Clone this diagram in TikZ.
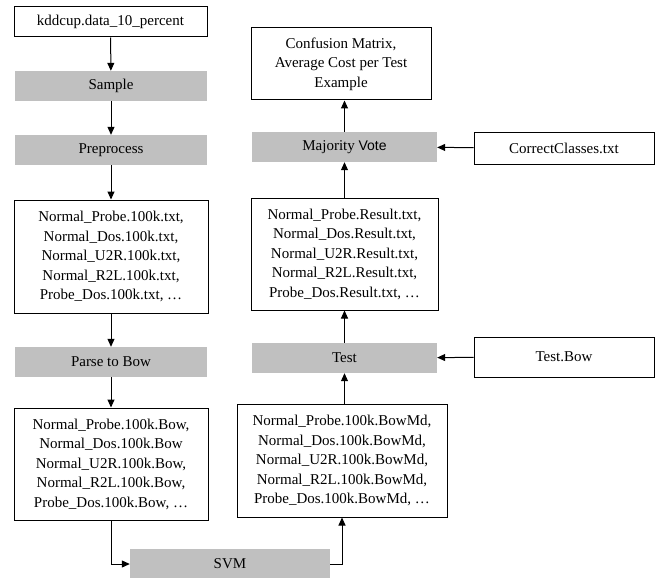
\documentclass[tikz,border=0pt]{standalone}
\usepackage{fontspec}
\setmainfont{Liberation Serif}
\newfontfamily\timesfont{Liberation Serif}
\newfontfamily\arialfont{Liberation Sans}
\usetikzlibrary{arrows.meta,calc}
\definecolor{procgray}{RGB}{192,192,192}
\begin{document}
\begin{tikzpicture}[x=1pt,y=-1pt,
  every node/.style={font=\timesfont\fontsize{15}{19.5}\selectfont, inner sep=0pt, align=center},
  filebox/.style={draw=black, line width=1pt, fill=white},
  procbox/.style={fill=procgray},
  conn/.style={line width=1pt, -{Triangle[length=8pt,width=7pt]}}
]
\useasboundingbox (0,0) rectangle (662,578);
\fill[white] (0,0) rectangle (662,578);

% left column
\node[filebox, minimum width=193pt, minimum height=30pt] (kdd) at (110.5,22) {kddcup.data\_10\_percent};
\node[procbox, minimum width=192pt, minimum height=30pt] (sample) at (111,86) {Sample};
\node[procbox, minimum width=192pt, minimum height=30pt] (prep) at (111,150) {Preprocess};
\node[filebox, minimum width=194pt, minimum height=113pt] (txt) at (111,256.5) {Normal\_Probe.100k.txt,\\Normal\_Dos.100k.txt,\\Normal\_U2R.100k.txt,\\Normal\_R2L.100k.txt,\\Probe\_Dos.100k.txt, …};
\node[procbox, minimum width=192pt, minimum height=30pt] (parse) at (111,362) {Parse to Bow};
\node[filebox, minimum width=194pt, minimum height=112pt] (bow) at (111,464) {Normal\_Probe.100k.Bow,\\Normal\_Dos.100k.Bow\\Normal\_U2R.100k.Bow,\\Normal\_R2L.100k.Bow,\\Probe\_Dos.100k.Bow, …};
\node[procbox, minimum width=200pt, minimum height=30pt] (svm) at (230,564) {SVM};

% right column
\node[filebox, minimum width=210pt, minimum height=113pt] (bowmd) at (342,460.5) {Normal\_Probe.100k.BowMd,\\Normal\_Dos.100k.BowMd,\\Normal\_U2R.100k.BowMd,\\Normal\_R2L.100k.BowMd,\\Probe\_Dos.100k.BowMd, …};
\node[procbox, minimum width=185pt, minimum height=30pt] (test) at (344.5,358) {Test};
\node[filebox, minimum width=180pt, minimum height=40pt] (testbow) at (564,357) {Test.Bow};
\node[filebox, minimum width=187pt, minimum height=112pt] (result) at (344.5,254) {Normal\_Probe.Result.txt,\\Normal\_Dos.Result.txt,\\Normal\_U2R.Result.txt,\\Normal\_R2L.Result.txt,\\Probe\_Dos.Result.txt, …};
\node[procbox, minimum width=185pt, minimum height=30pt] (maj) at (344.5,147) {Majority {\arialfont\fontsize{14}{17}\selectfont Vote}};
\node[filebox, minimum width=180pt, minimum height=32pt] (correct) at (564,148) {CorrectClasses.txt};
\node[filebox, minimum width=180pt, minimum height=72pt] (conf) at (341,64) {Confusion Matrix,\\Average Cost per Test\\Example};

% connectors
\draw[conn] (kdd) -- (sample);
\draw[conn] (sample) -- (prep);
\draw[conn] (prep) -- (txt);
\draw[conn] (txt) -- (parse);
\draw[conn] (parse) -- (bow);
\draw[conn] (bow.south) |- (svm.west);
\draw[conn] (svm.east) -| (bowmd.south);
\draw[conn] (bowmd.north -| test.south) -- (test.south);
\draw[conn] (test) -- (result);
\draw[conn] (result) -- (maj);
\draw[conn] (maj.north) -- (conf.south -| maj.north);
\draw[conn] (testbow) -- (test);
\draw[conn] (correct) -- (maj);
\end{tikzpicture}
\end{document}
